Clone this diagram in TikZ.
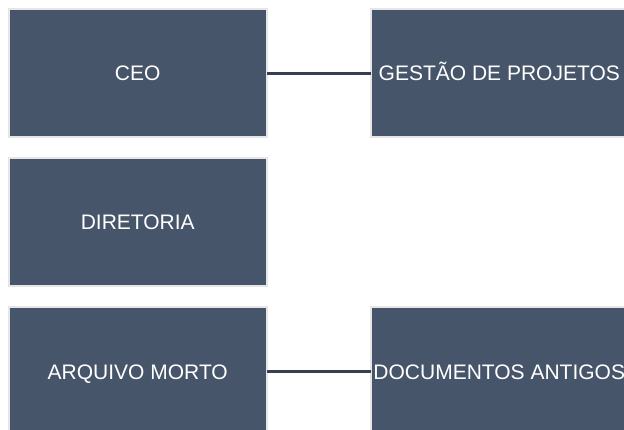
\documentclass[tikz,border=0pt]{standalone}
\usepackage{fontspec}
\setmainfont{Liberation Sans}
\definecolor{boxfill}{RGB}{71,85,106}
\definecolor{boxedge}{RGB}{230,230,230}
\definecolor{linkcol}{RGB}{52,64,82}
\begin{document}
\begin{tikzpicture}[x=1pt,y=-1pt,
  orgbox/.style={draw=boxedge, line width=2pt, fill=boxfill, minimum width=258.5pt,
    minimum height=128.5pt, inner sep=0pt, outer sep=0pt, anchor=center},
  lbl/.style={text=white, font=\fontsize{21pt}{24pt}\selectfont, text height=15pt, text depth=0pt, inner sep=0pt},
  link/.style={draw=linkcol, line width=2.6pt}]
\useasboundingbox (0,0) rectangle (624,430);
\node[orgbox] (ceo) at (137.75,73.25) {};
\node[orgbox] (dir) at (137.75,222) {};
\node[orgbox] (arq) at (137.75,371.5) {};
\node[orgbox] (gp) at (500.25,73.25) {};
\node[orgbox] (doc) at (500.25,371.5) {};
\node[lbl] at (ceo.center) {CEO};
\node[lbl] at (dir.center) {DIRETORIA};
\node[lbl] at (arq.center) {ARQUIVO MORTO};
\node[lbl] at ([xshift=-1pt]gp.center) {GESTÃO DE PROJETOS};
\node[lbl] at ([xshift=-1pt]doc.center) {DOCUMENTOS ANTIGOS};
\draw[link] (ceo.east) -- (gp.west);
\draw[link] (arq.east) -- (doc.west);
\end{tikzpicture}
\end{document}
